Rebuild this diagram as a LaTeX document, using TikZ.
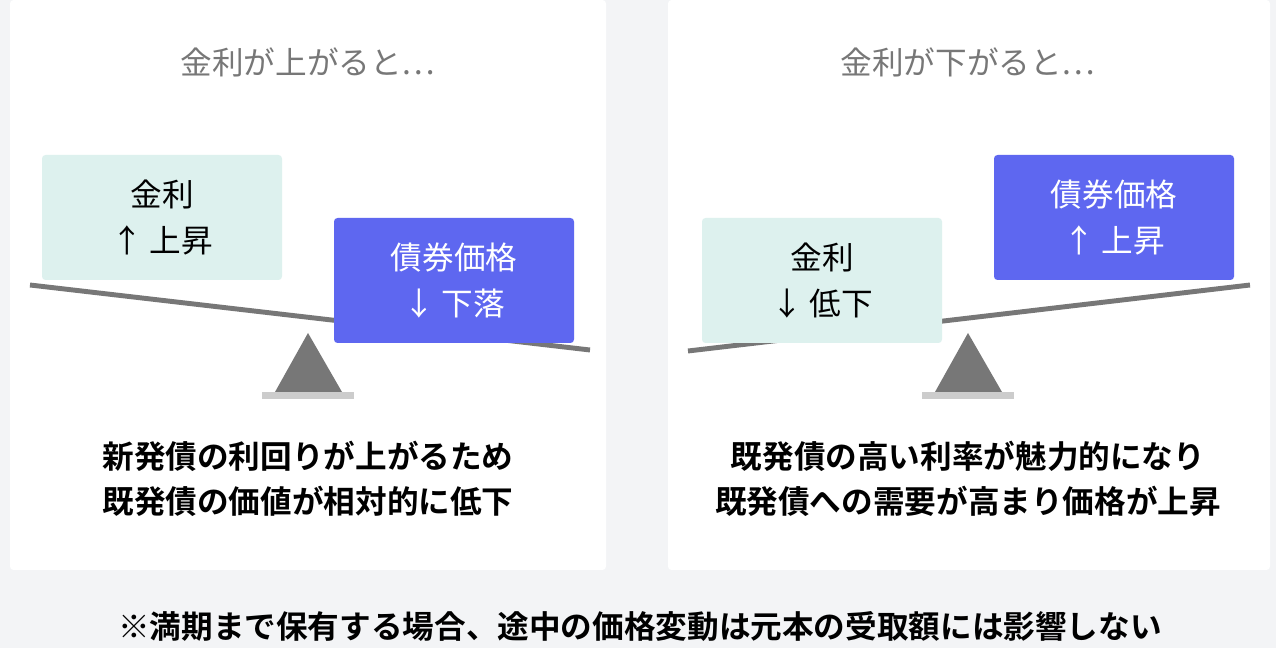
\documentclass[tikz,border=0pt]{standalone}
\usepackage{fontspec}
\newfontfamily\cjk{Noto Sans CJK JP}[BoldFont={Noto Sans CJK JP Bold}]
\usetikzlibrary{positioning}
\definecolor{pageBg}{HTML}{F3F4F6}
\definecolor{beamGray}{HTML}{777777}
\definecolor{baseGray}{HTML}{CCCCCC}
\definecolor{rateGreen}{HTML}{DDF1EE}
\definecolor{bondBlue}{HTML}{5E67F0}

\begin{document}
\begin{tikzpicture}[x=0.02cm, y=-0.02cm,
                    every node/.style={font=\cjk\fontsize{18pt}{26pt}\selectfont},
                    my panel/.style={fill=white, rounded corners=2pt},
                    my title/.style={text=beamGray},
                    my beam/.style={draw=beamGray, line width=2.8pt},
                    my pivot/.style={fill=beamGray},
                    my rate box/.style={fill=rateGreen, rounded corners=2pt,
                      minimum width=240*0.02cm, minimum height=125*0.02cm,
                      align=center, text=black},
                    my bond box/.style={my rate box, fill=bondBlue, text=white},
                    my caption/.style={font=\cjk\bfseries\fontsize{18pt}{26pt}\selectfont,
                      align=center}]
\useasboundingbox (0,0) rectangle (1276,648);
\fill[pageBg] (0,0) rectangle (1276,648);

% Left: rates up
\path[my panel] (10,0) rectangle (606,570);
\node[my title] (titleL) at (308,62) {金利が上がると…};
\coordinate (beamLa) at (30,285);
\coordinate (beamLb) at (590,350);
\draw[my beam] (beamLa) -- (beamLb);
\fill[my pivot] (308,333) -- (342,392) -- (275,392) -- cycle;
\fill[baseGray] (262,392) rectangle (354,399);
\node[my rate box] (rateL) at (162,217.5) {金利\\↑ 上昇};
\node[my bond box] (bondL) at (454,280.5) {債券価格\\↓ 下落};
\node[my caption] (capL) at (308,479) {新発債の利回りが上がるため\\既発債の価値が相対的に低下};

% Right: rates down
\path[my panel] (668,0) rectangle (1270,570);
\node[my title] (titleR) at (968,62) {金利が下がると…};
\coordinate (beamRa) at (688,351);
\coordinate (beamRb) at (1250,285);
\draw[my beam] (beamRa) -- (beamRb);
\fill[my pivot] (968,333) -- (1002,392) -- (935,392) -- cycle;
\fill[baseGray] (922,392) rectangle (1014,399);
\node[my rate box] (rateR) at (822,280.5) {金利\\↓ 低下};
\node[my bond box] (bondR) at (1114,217.5) {債券価格\\↑ 上昇};
\node[my caption] (capR) at (968,479) {既発債の高い利率が魅力的になり\\既発債への需要が高まり価格が上昇};

\node[my caption] (note) at (640,627) {※満期まで保有する場合、途中の価格変動は元本の受取額には影響しない};
\end{tikzpicture}
\end{document}
